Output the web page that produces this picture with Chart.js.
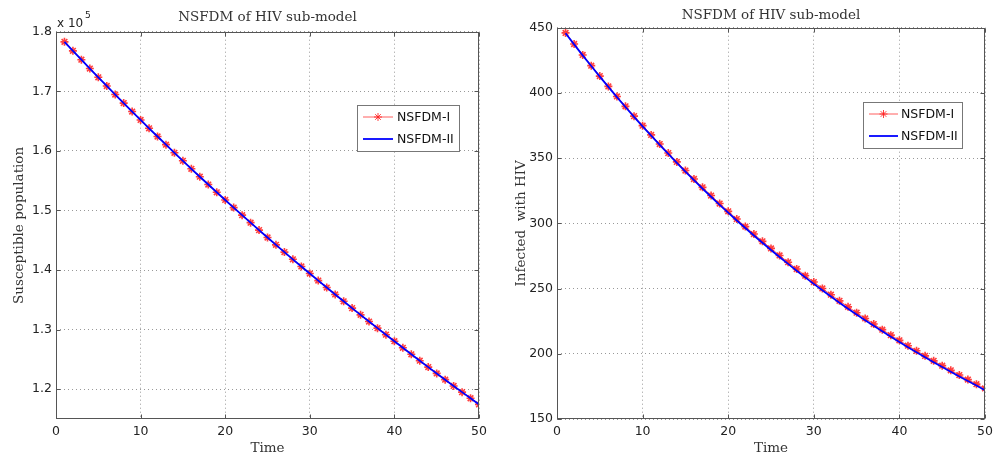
<!DOCTYPE html>
<html>
<head>
<meta charset="utf-8">
<script src="https://cdn.jsdelivr.net/npm/chart.js@4"></script>
<style>
  html, body { margin: 0; padding: 0; background: #fff; }
  .panel { position: absolute; top: 0; width: 499px; height: 459px; }
</style>
</head>
<body>
<div class="panel" style="left:0"><canvas id="left"></canvas></div>
<div class="panel" style="left:499px"><canvas id="right"></canvas></div>
<script>
const times = [1,2,3,4,5,6,7,8,9,10,11,12,13,14,15,16,17,18,19,20,
  21,22,23,24,25,26,27,28,29,30,31,32,33,34,35,36,37,38,39,40,
  41,42,43,44,45,46,47,48,49,50];

// susceptible population (left panel)
const susceptibleI = [178300,176790,175300,173820,172350,170890,169450,168020,166600,165190,
  163790,162410,161040,159680,158330,156990,155660,154350,153050,151760,
  150480,149210,147950,146700,145460,144230,143010,141800,140600,139410,
  138230,137060,135900,134750,133610,132480,131360,130250,129150,128060,
  126950,125860,124780,123710,122650,121600,120550,119510,118480,117450];
const susceptibleII = [178300,176790,175300,173820,172350,170890,169450,168020,166600,165190,
  163790,162410,161040,159680,158330,156990,155660,154350,153050,151760,
  150480,149210,147950,146700,145460,144230,143010,141800,140600,139410,
  138230,137060,135900,134750,133610,132480,131360,130250,129150,128060,
  126950,125860,124780,123710,122650,121600,120550,119510,118480,117450];

// infected with HIV (right panel)
const infectedI = [446.0,437.5,429.1,420.9,412.9,405.0,397.3,389.7,382.2,374.9,
  367.8,360.8,353.9,347.1,340.5,334.0,327.6,321.3,315.2,309.2,
  303.3,297.5,291.8,286.2,280.8,275.4,270.2,265.0,259.9,255.0,
  250.1,245.3,240.6,236.0,231.5,227.1,222.8,218.5,214.3,210.3,
  206.2,202.3,198.4,194.6,190.9,187.3,183.7,180.2,176.7,173.4];
const infectedII = [445.8,437.2,428.8,420.6,412.5,404.6,396.8,389.2,381.7,374.4,
  367.2,360.1,353.2,346.4,339.7,333.1,326.7,320.4,314.2,308.2,
  302.2,296.4,290.7,285.1,279.6,274.2,268.9,263.7,258.6,253.6,
  248.7,243.9,239.2,234.6,230.1,225.7,221.4,217.2,213.1,209.0,
  205.0,201.1,197.3,193.5,189.8,186.2,182.6,179.1,175.7,172.0];

const seriesNames = ['NSFDM-I', 'NSFDM-II'];
const xTicks = [0, 10, 20, 30, 40, 50];

const SERIF = '"DejaVu Serif", serif';
const SANS = '"DejaVu Sans", sans-serif';

// axes box, inward ticks, boxed legend and exponent note, MATLAB style
const matlabFrame = {
  id: 'matlabFrame',
  afterDatasetsDraw(chart, args, opts) {
    const { ctx, chartArea: a, scales } = chart;
    const L = Math.round(a.left) + 0.5, R = Math.round(a.right) - 0.5;
    const T = Math.round(a.top) + 0.5, B = Math.round(a.bottom) - 0.5;
    ctx.save();
    ctx.strokeStyle = '#555';
    ctx.lineWidth = 1;
    ctx.beginPath();
    scales.x.ticks.forEach(t => {
      const px = Math.round(scales.x.getPixelForValue(t.value)) + 0.5;
      ctx.moveTo(px, B); ctx.lineTo(px, B - 4);
      ctx.moveTo(px, T); ctx.lineTo(px, T + 4);
    });
    scales.y.ticks.forEach(t => {
      const py = Math.round(scales.y.getPixelForValue(t.value)) + 0.5;
      ctx.moveTo(L, py); ctx.lineTo(L + 4, py);
      ctx.moveTo(R, py); ctx.lineTo(R - 4, py);
    });
    ctx.stroke();
    ctx.strokeRect(L, T, R - L, B - T);

    // legend
    const lg = opts.legend;
    ctx.fillStyle = '#fff';
    ctx.fillRect(lg.x, lg.y, lg.w, lg.h);
    ctx.strokeStyle = '#777';
    ctx.strokeRect(lg.x + 0.5, lg.y + 0.5, lg.w, lg.h);
    ctx.font = '12.5px ' + SANS;
    ctx.textBaseline = 'middle';
    ctx.textAlign = 'left';
    seriesNames.forEach((name, i) => {
      const ds = chart.data.datasets.find(d => d.label === name);
      const y = lg.y + lg.rows[i];
      ctx.strokeStyle = ds.borderColor;
      ctx.lineWidth = ds.borderWidth;
      ctx.beginPath();
      ctx.moveTo(lg.x + lg.line0, y);
      ctx.lineTo(lg.x + lg.line1, y);
      ctx.stroke();
      if (ds.pointRadius > 0) {
        ctx.strokeStyle = ds.pointBorderColor;
        ctx.fillStyle = ds.pointBackgroundColor;
        Chart.helpers.drawPoint(ctx, {
          pointStyle: ds.pointStyle, radius: ds.pointRadius,
          borderWidth: ds.pointBorderWidth
        }, lg.x + (lg.line0 + lg.line1) / 2, y);
      }
      ctx.fillStyle = '#111';
      ctx.fillText(name, lg.x + lg.text, y + 0.5);
    });

    if (opts.exponent) {
      ctx.fillStyle = '#222';
      ctx.font = '12px ' + SANS;
      ctx.textBaseline = 'alphabetic';
      ctx.fillText('x 10', a.left + 1, a.top - 5);
      ctx.font = '9px ' + SANS;
      ctx.fillText('5', a.left + 29, a.top - 14);
    }
    ctx.restore();
  }
};

function makeChart(id, seriesI, seriesII, cfg) {
  const pts = arr => times.map((t, i) => ({ x: t, y: arr[i] }));
  return new Chart(document.getElementById(id), {
    type: 'line',
    data: {
      datasets: [{
        label: seriesNames[0],
        data: pts(seriesI),
        borderColor: 'rgba(255,40,40,0.75)',
        borderWidth: 1,
        pointStyle: 'star',
        pointRadius: 4,
        pointBorderColor: 'rgba(255,30,30,0.85)',
        pointBackgroundColor: '#ff2020',
        pointBorderWidth: 1.6,
        tension: 0,
        order: 1
      }, {
        label: seriesNames[1],
        data: pts(seriesII),
        borderColor: '#0000ff',
        borderWidth: 1.8,
        pointRadius: 0,
        tension: 0,
        order: 0
      }]
    },
    options: {
      responsive: true,
      maintainAspectRatio: false,
      animation: false,
      layout: { padding: { left: 0, right: cfg.padRight, top: 0, bottom: 0 } },
      plugins: {
        legend: { display: false },
        tooltip: { enabled: false },
        title: {
          display: true,
          text: 'NSFDM of HIV sub-model',
          fullSize: false,
          color: '#333',
          font: { family: SERIF, size: 13.5, weight: 'normal' },
          padding: cfg.titlePad
        },
        matlabFrame: { legend: cfg.legend, exponent: cfg.exponent }
      },
      scales: {
        x: {
          type: 'linear',
          min: 0, max: 50,
          afterBuildTicks: s => { s.ticks = xTicks.map(v => ({ value: v })); },
          afterFit: s => { s.height = 40; },
          grid: { color: '#999', drawTicks: false },
          border: { display: false, dash: [1, 3] },
          ticks: { color: '#222', padding: 5, font: { family: SANS, size: 12.5 }, maxRotation: 0 },
          title: {
            display: true, text: 'Time', color: '#333',
            font: { family: SERIF, size: 13.5 }, padding: { top: 0, bottom: 2 }
          }
        },
        y: {
          min: cfg.yMin, max: cfg.yMax,
          afterBuildTicks: s => { s.ticks = cfg.yTicks.map(v => ({ value: v })); },
          afterFit: s => { s.width = cfg.yWidth; },
          grid: { color: '#999', drawTicks: false },
          border: { display: false, dash: [1, 3] },
          ticks: {
            color: '#222', padding: 4, font: { family: SANS, size: 12.5 },
            callback: cfg.yFormat
          },
          title: {
            display: true, text: cfg.yTitle, color: '#333',
            font: { family: SERIF, size: 13.5 }, padding: { top: cfg.yTitlePad, bottom: 0 }
          }
        }
      }
    },
    plugins: [matlabFrame]
  });
}

makeChart('left', susceptibleI, susceptibleII, {
  yMin: 115000, yMax: 180000,
  yTicks: [120000, 130000, 140000, 150000, 160000, 170000, 180000],
  yFormat: v => (v / 1e5).toFixed(1),
  yTitle: 'Susceptible population',
  yTitlePad: 11,
  yWidth: 56,
  padRight: 20,
  titlePad: { top: 9, bottom: 6.5 },
  exponent: true,
  legend: { x: 357, y: 105, w: 102, h: 46, rows: [12, 34], line0: 6, line1: 36, text: 40 }
});

makeChart('right', infectedI, infectedII, {
  yMin: 150, yMax: 450,
  yTicks: [150, 200, 250, 300, 350, 400, 450],
  yFormat: v => String(v),
  yTitle: 'Infected  with HIV',
  yTitlePad: 14,
  yWidth: 58,
  padRight: 13,
  titlePad: { top: 7, bottom: 4.5 },
  exponent: false,
  legend: { x: 364, y: 102, w: 99, h: 46, rows: [12, 34], line0: 6, line1: 35, text: 38 }
});
</script>
</body>
</html>
